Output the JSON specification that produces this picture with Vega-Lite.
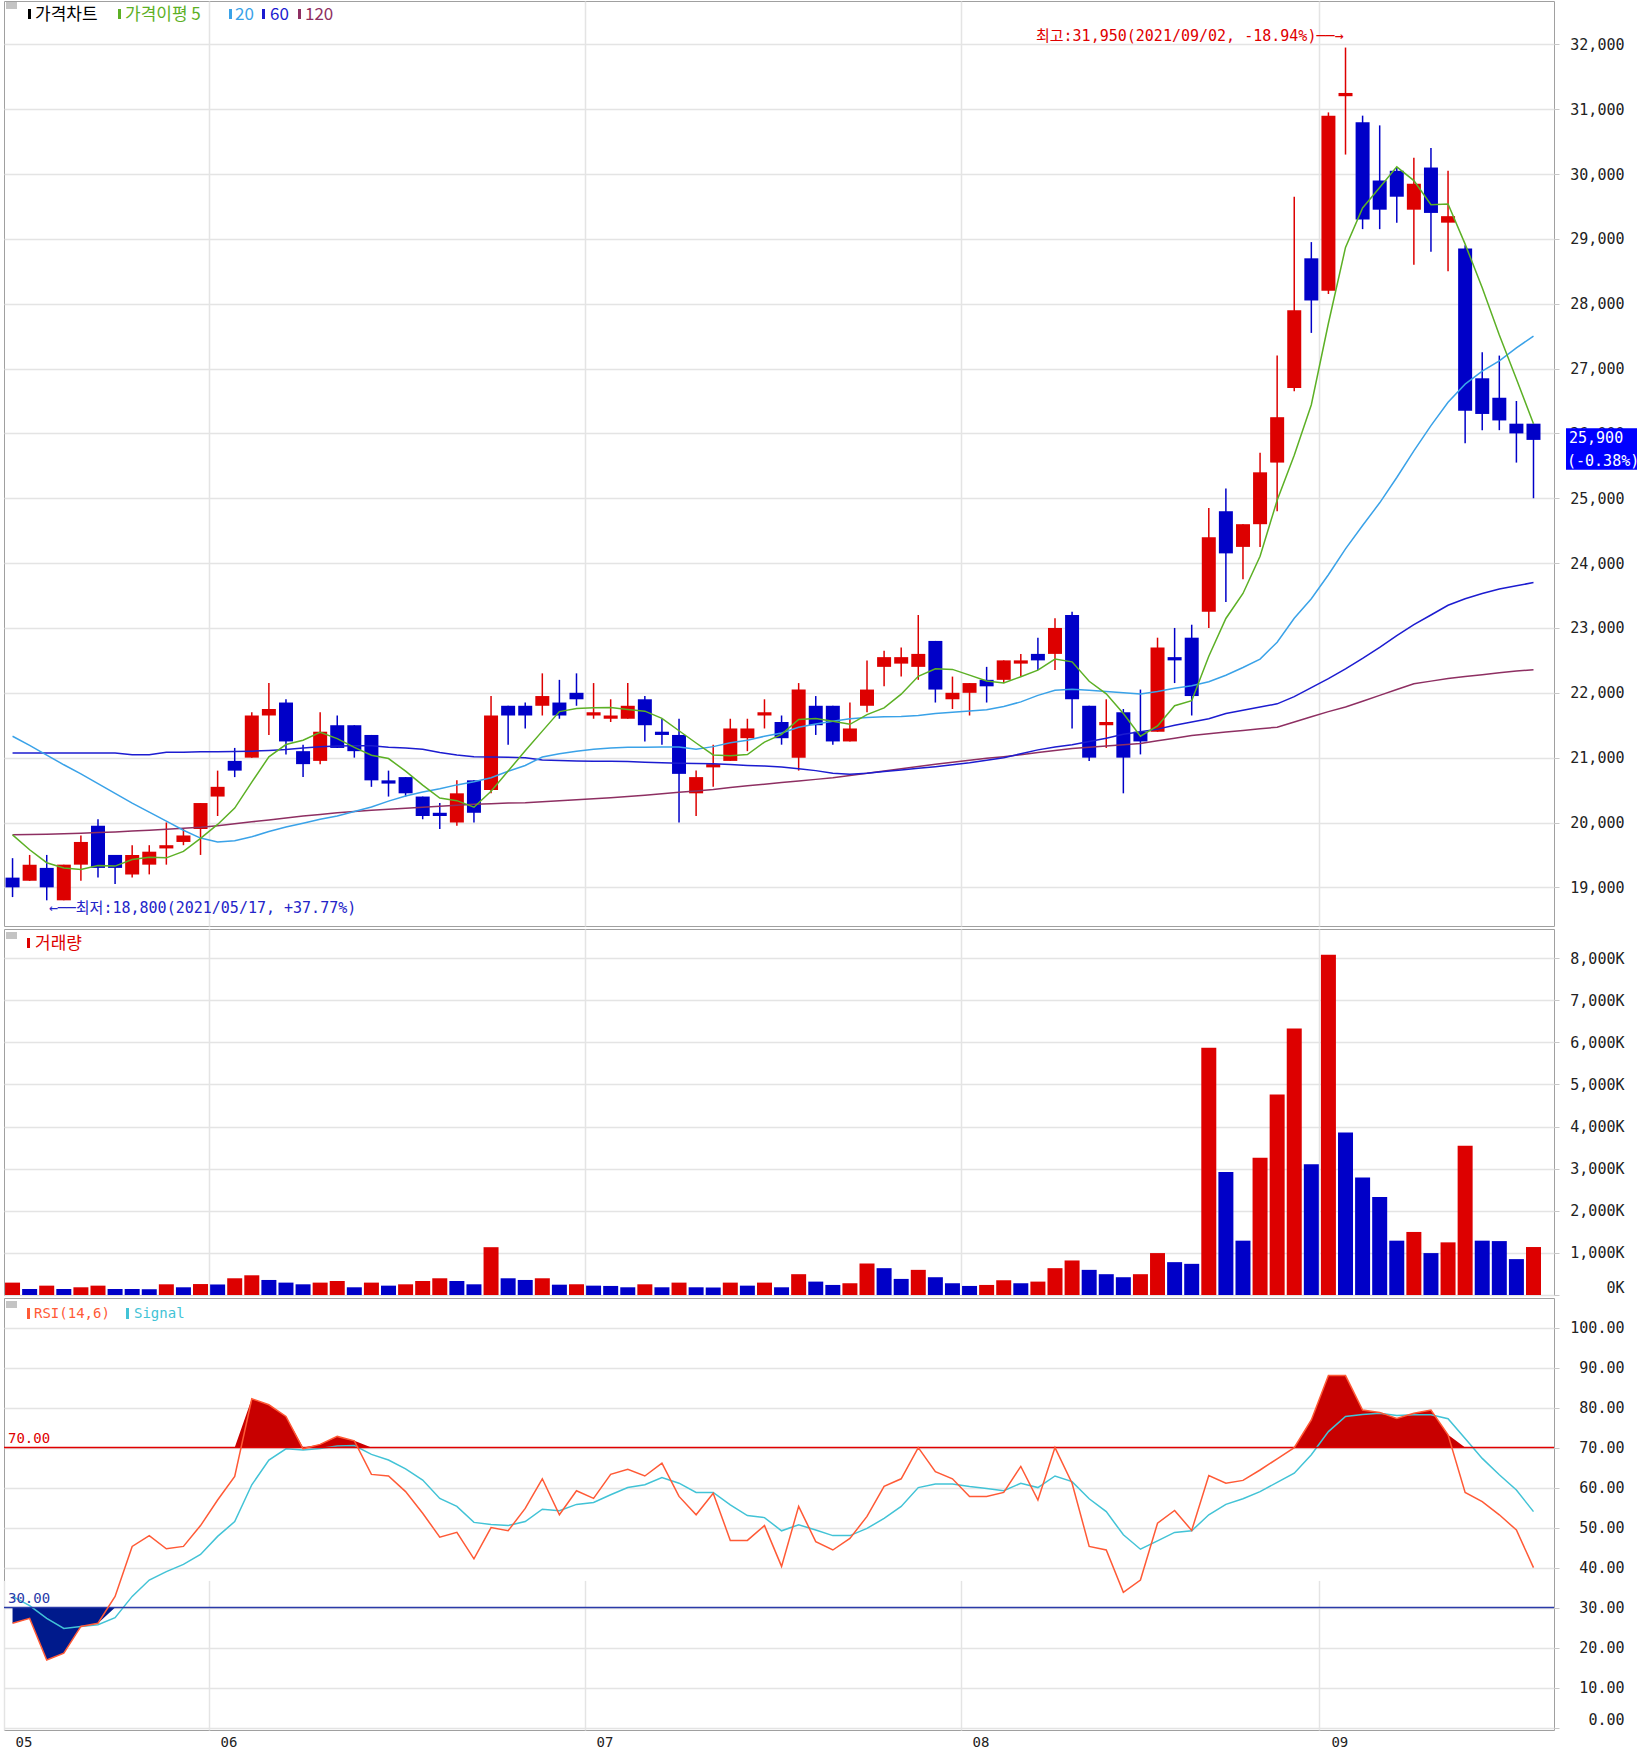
{
"$schema":"https://vega.github.io/schema/vega-lite/v6.json",
"padding":{"left":2,"top":0,"right":0,"bottom":0},
"background":"white",
"spacing":1,
"config":{
 "view":{"stroke":"#a0a0a0","strokeWidth":1},
 "axis":{"gridColor":"#e4e4e4","gridWidth":1.5,"labelFont":"DejaVu Sans Mono","labelFontSize":15,"labelColor":"#222222","tickColor":"#c8c8c8","domain":false}
},
"datasets":{"k":[
{"d":"05/13","o":19150,"h":19450,"l":18850,"c":19000,"v":294,"vd":"u","m5":19810,"m20":21330,"m60":21070,"m120":19810,"rsi":26.1,"sig":32.8},
{"d":"05/14","o":19100,"h":19500,"l":19100,"c":19350,"v":143,"vd":"d","m5":19580,"m20":21190,"m60":21070,"m120":19815,"rsi":27.3,"sig":30.5},
{"d":"05/17","o":19300,"h":19500,"l":18800,"c":19000,"v":222,"vd":"u","m5":19380,"m20":21040,"m60":21070,"m120":19820,"rsi":16.9,"sig":27.3},
{"d":"05/18","o":18800,"h":19350,"l":18800,"c":19350,"v":143,"vd":"d","m5":19300,"m20":20890,"m60":21070,"m120":19825,"rsi":18.6,"sig":24.8},
{"d":"05/20","o":19350,"h":19800,"l":19100,"c":19700,"v":183,"vd":"u","m5":19275,"m20":20750,"m60":21070,"m120":19835,"rsi":25.3,"sig":25.3},
{"d":"05/21","o":19950,"h":20050,"l":19150,"c":19300,"v":222,"vd":"u","m5":19335,"m20":20600,"m60":21070,"m120":19845,"rsi":26.1,"sig":25.7},
{"d":"05/24","o":19500,"h":19500,"l":19050,"c":19300,"v":143,"vd":"d","m5":19328,"m20":20450,"m60":21070,"m120":19855,"rsi":32.8,"sig":27.5},
{"d":"05/25","o":19200,"h":19650,"l":19150,"c":19500,"v":140,"vd":"d","m5":19428,"m20":20300,"m60":21045,"m120":19870,"rsi":45.3,"sig":32.8},
{"d":"05/26","o":19350,"h":19650,"l":19200,"c":19550,"v":137,"vd":"d","m5":19464,"m20":20160,"m60":21045,"m120":19880,"rsi":48.0,"sig":36.9},
{"d":"05/27","o":19600,"h":20000,"l":19350,"c":19650,"v":254,"vd":"u","m5":19455,"m20":20020,"m60":21085,"m120":19895,"rsi":44.7,"sig":39.0},
{"d":"05/28","o":19700,"h":19900,"l":19650,"c":19800,"v":183,"vd":"d","m5":19555,"m20":19880,"m60":21085,"m120":19910,"rsi":45.3,"sig":40.8},
{"d":"05/31","o":19900,"h":20300,"l":19500,"c":20300,"v":260,"vd":"u","m5":19754,"m20":19760,"m60":21090,"m120":19925,"rsi":50.5,"sig":43.3},
{"d":"06/01","o":20400,"h":20800,"l":20100,"c":20550,"v":250,"vd":"d","m5":19970,"m20":19700,"m60":21090,"m120":19950,"rsi":56.9,"sig":47.8},
{"d":"06/02","o":20950,"h":21150,"l":20700,"c":20800,"v":397,"vd":"u","m5":20222,"m20":19720,"m60":21095,"m120":19980,"rsi":62.8,"sig":51.5},
{"d":"06/03","o":21000,"h":21700,"l":21000,"c":21650,"v":468,"vd":"u","m5":20622,"m20":19780,"m60":21100,"m120":20010,"rsi":82.2,"sig":60.7},
{"d":"06/04","o":21650,"h":22150,"l":21350,"c":21750,"v":357,"vd":"d","m5":21013,"m20":19860,"m60":21110,"m120":20040,"rsi":80.7,"sig":66.9},
{"d":"06/07","o":21850,"h":21900,"l":21050,"c":21250,"v":294,"vd":"d","m5":21202,"m20":19930,"m60":21125,"m120":20070,"rsi":77.8,"sig":69.7},
{"d":"06/08","o":21100,"h":21200,"l":20700,"c":20900,"v":254,"vd":"d","m5":21269,"m20":19990,"m60":21150,"m120":20100,"rsi":69.7,"sig":69.4},
{"d":"06/09","o":20950,"h":21700,"l":20900,"c":21400,"v":294,"vd":"u","m5":21392,"m20":20050,"m60":21170,"m120":20125,"rsi":70.8,"sig":69.8},
{"d":"06/10","o":21500,"h":21650,"l":21150,"c":21150,"v":333,"vd":"u","m5":21294,"m20":20100,"m60":21180,"m120":20150,"rsi":72.8,"sig":70.4},
{"d":"06/11","o":21500,"h":21500,"l":21000,"c":21100,"v":183,"vd":"d","m5":21159,"m20":20170,"m60":21185,"m120":20170,"rsi":71.7,"sig":70.5},
{"d":"06/14","o":21350,"h":21350,"l":20550,"c":20650,"v":294,"vd":"u","m5":21038,"m20":20240,"m60":21185,"m120":20190,"rsi":63.3,"sig":68.3},
{"d":"06/15","o":20650,"h":20800,"l":20400,"c":20600,"v":222,"vd":"d","m5":20986,"m20":20330,"m60":21160,"m120":20205,"rsi":62.9,"sig":66.9},
{"d":"06/16","o":20700,"h":20700,"l":20400,"c":20450,"v":254,"vd":"u","m5":20792,"m20":20410,"m60":21150,"m120":20220,"rsi":59.0,"sig":64.7},
{"d":"06/17","o":20400,"h":20400,"l":20050,"c":20100,"v":333,"vd":"u","m5":20577,"m20":20470,"m60":21130,"m120":20235,"rsi":53.6,"sig":61.9},
{"d":"06/18","o":20150,"h":20300,"l":19900,"c":20100,"v":397,"vd":"u","m5":20377,"m20":20520,"m60":21080,"m120":20250,"rsi":47.6,"sig":57.3},
{"d":"06/21","o":20000,"h":20650,"l":19950,"c":20450,"v":333,"vd":"d","m5":20337,"m20":20580,"m60":21040,"m120":20265,"rsi":48.8,"sig":55.3},
{"d":"06/22","o":20650,"h":20650,"l":20000,"c":20150,"v":254,"vd":"d","m5":20236,"m20":20630,"m60":21015,"m120":20280,"rsi":42.2,"sig":51.3},
{"d":"06/23","o":20500,"h":21950,"l":20450,"c":21650,"v":1135,"vd":"u","m5":20482,"m20":20690,"m60":21010,"m120":20290,"rsi":50.0,"sig":50.8},
{"d":"06/24","o":21800,"h":21800,"l":21200,"c":21650,"v":397,"vd":"d","m5":20794,"m20":20790,"m60":21005,"m120":20300,"rsi":49.2,"sig":50.5},
{"d":"06/25","o":21800,"h":21850,"l":21450,"c":21650,"v":357,"vd":"d","m5":21105,"m20":20880,"m60":21000,"m120":20306,"rsi":54.8,"sig":51.5},
{"d":"06/28","o":21800,"h":22300,"l":21650,"c":21950,"v":397,"vd":"u","m5":21409,"m20":21010,"m60":20965,"m120":20320,"rsi":62.2,"sig":54.6},
{"d":"06/29","o":21850,"h":22200,"l":21600,"c":21650,"v":245,"vd":"d","m5":21710,"m20":21060,"m60":20955,"m120":20335,"rsi":53.2,"sig":54.2},
{"d":"06/30","o":22000,"h":22300,"l":21800,"c":21900,"v":255,"vd":"u","m5":21758,"m20":21100,"m60":20950,"m120":20350,"rsi":59.2,"sig":55.8},
{"d":"07/01","o":21650,"h":22150,"l":21600,"c":21700,"v":222,"vd":"d","m5":21770,"m20":21130,"m60":20945,"m120":20365,"rsi":57.3,"sig":56.3},
{"d":"07/02","o":21600,"h":21900,"l":21550,"c":21650,"v":215,"vd":"d","m5":21773,"m20":21150,"m60":20945,"m120":20380,"rsi":63.3,"sig":58.2},
{"d":"07/05","o":21600,"h":22150,"l":21600,"c":21800,"v":183,"vd":"d","m5":21744,"m20":21160,"m60":20940,"m120":20400,"rsi":64.6,"sig":60.0},
{"d":"07/06","o":21900,"h":21950,"l":21250,"c":21500,"v":254,"vd":"u","m5":21717,"m20":21160,"m60":20930,"m120":20420,"rsi":62.9,"sig":60.7},
{"d":"07/07","o":21400,"h":21600,"l":21200,"c":21350,"v":183,"vd":"d","m5":21607,"m20":21165,"m60":20920,"m120":20445,"rsi":66.1,"sig":62.5},
{"d":"07/08","o":21350,"h":21600,"l":20000,"c":20750,"v":294,"vd":"u","m5":21415,"m20":21165,"m60":20915,"m120":20465,"rsi":57.8,"sig":61.1},
{"d":"07/09","o":20450,"h":20800,"l":20100,"c":20700,"v":183,"vd":"d","m5":21226,"m20":21130,"m60":20910,"m120":20487,"rsi":53.2,"sig":58.8},
{"d":"07/12","o":20850,"h":21200,"l":20550,"c":20900,"v":178,"vd":"d","m5":21042,"m20":21170,"m60":20905,"m120":20510,"rsi":58.6,"sig":58.8},
{"d":"07/13","o":20950,"h":21600,"l":20950,"c":21450,"v":294,"vd":"u","m5":21029,"m20":21230,"m60":20895,"m120":20540,"rsi":46.8,"sig":55.7},
{"d":"07/14","o":21300,"h":21600,"l":21100,"c":21450,"v":222,"vd":"d","m5":21048,"m20":21270,"m60":20880,"m120":20565,"rsi":46.8,"sig":53.0},
{"d":"07/15","o":21650,"h":21900,"l":21450,"c":21700,"v":294,"vd":"u","m5":21240,"m20":21330,"m60":20870,"m120":20590,"rsi":50.5,"sig":52.5},
{"d":"07/16","o":21550,"h":21650,"l":21200,"c":21300,"v":183,"vd":"d","m5":21359,"m20":21380,"m60":20855,"m120":20615,"rsi":40.3,"sig":49.2},
{"d":"07/19","o":21000,"h":22150,"l":20800,"c":22050,"v":494,"vd":"u","m5":21589,"m20":21470,"m60":20830,"m120":20640,"rsi":55.3,"sig":50.7},
{"d":"07/20","o":21800,"h":21950,"l":21350,"c":21500,"v":318,"vd":"d","m5":21603,"m20":21520,"m60":20800,"m120":20665,"rsi":46.5,"sig":49.4},
{"d":"07/21","o":21800,"h":21800,"l":21200,"c":21250,"v":239,"vd":"d","m5":21563,"m20":21560,"m60":20760,"m120":20690,"rsi":44.4,"sig":48.0},
{"d":"07/22","o":21250,"h":21850,"l":21250,"c":21450,"v":279,"vd":"u","m5":21514,"m20":21600,"m60":20745,"m120":20725,"rsi":47.3,"sig":48.0},
{"d":"07/23","o":21800,"h":22500,"l":21700,"c":22050,"v":748,"vd":"u","m5":21664,"m20":21620,"m60":20760,"m120":20760,"rsi":52.8,"sig":49.8},
{"d":"07/26","o":22400,"h":22650,"l":22100,"c":22550,"v":637,"vd":"d","m5":21768,"m20":21630,"m60":20785,"m120":20795,"rsi":60.3,"sig":52.3},
{"d":"07/27","o":22450,"h":22700,"l":22250,"c":22550,"v":382,"vd":"d","m5":21979,"m20":21635,"m60":20810,"m120":20830,"rsi":62.2,"sig":55.3},
{"d":"07/28","o":22400,"h":23200,"l":22200,"c":22600,"v":597,"vd":"u","m5":22254,"m20":21650,"m60":20835,"m120":20865,"rsi":70.0,"sig":60.0},
{"d":"07/29","o":22800,"h":22800,"l":21850,"c":22050,"v":422,"vd":"d","m5":22371,"m20":21680,"m60":20860,"m120":20900,"rsi":64.0,"sig":60.9},
{"d":"07/30","o":21900,"h":22250,"l":21750,"c":22000,"v":279,"vd":"d","m5":22361,"m20":21700,"m60":20890,"m120":20930,"rsi":62.2,"sig":60.9},
{"d":"08/02","o":22000,"h":22150,"l":21650,"c":22150,"v":215,"vd":"d","m5":22273,"m20":21720,"m60":20920,"m120":20960,"rsi":57.8,"sig":60.3},
{"d":"08/03","o":22200,"h":22400,"l":21850,"c":22100,"v":239,"vd":"u","m5":22181,"m20":21740,"m60":20960,"m120":20990,"rsi":57.8,"sig":59.8},
{"d":"08/04","o":22200,"h":22500,"l":22150,"c":22500,"v":350,"vd":"u","m5":22153,"m20":21790,"m60":21000,"m120":21015,"rsi":58.8,"sig":59.2},
{"d":"08/05","o":22450,"h":22600,"l":22250,"c":22500,"v":279,"vd":"d","m5":22248,"m20":21860,"m60":21060,"m120":21045,"rsi":65.3,"sig":61.1},
{"d":"08/06","o":22600,"h":22850,"l":22350,"c":22500,"v":318,"vd":"u","m5":22349,"m20":21960,"m60":21120,"m120":21080,"rsi":56.9,"sig":60.0},
{"d":"08/09","o":22600,"h":23150,"l":22350,"c":23000,"v":637,"vd":"u","m5":22521,"m20":22040,"m60":21165,"m120":21110,"rsi":70.0,"sig":62.9},
{"d":"08/10","o":23200,"h":23250,"l":21450,"c":21900,"v":820,"vd":"u","m5":22477,"m20":22055,"m60":21200,"m120":21140,"rsi":61.1,"sig":61.5},
{"d":"08/11","o":21800,"h":21800,"l":20950,"c":21000,"v":597,"vd":"d","m5":22178,"m20":22040,"m60":21250,"m120":21160,"rsi":45.3,"sig":57.2},
{"d":"08/12","o":21500,"h":21900,"l":21150,"c":21550,"v":494,"vd":"d","m5":21984,"m20":22020,"m60":21300,"m120":21180,"rsi":44.4,"sig":54.0},
{"d":"08/13","o":21700,"h":21750,"l":20450,"c":21000,"v":422,"vd":"d","m5":21680,"m20":22000,"m60":21360,"m120":21200,"rsi":33.8,"sig":48.2},
{"d":"08/17","o":21400,"h":22050,"l":21050,"c":21250,"v":494,"vd":"u","m5":21330,"m20":21980,"m60":21400,"m120":21220,"rsi":36.9,"sig":44.6},
{"d":"08/18","o":21400,"h":22850,"l":21400,"c":22700,"v":995,"vd":"u","m5":21490,"m20":22020,"m60":21440,"m120":21260,"rsi":51.1,"sig":46.7},
{"d":"08/19","o":22550,"h":23000,"l":22150,"c":22500,"v":780,"vd":"d","m5":21801,"m20":22070,"m60":21500,"m120":21300,"rsi":54.3,"sig":48.8},
{"d":"08/20","o":22850,"h":23050,"l":21650,"c":21950,"v":740,"vd":"d","m5":21878,"m20":22110,"m60":21550,"m120":21340,"rsi":49.3,"sig":49.2},
{"d":"08/23","o":23250,"h":24850,"l":23000,"c":24400,"v":5868,"vd":"u","m5":22564,"m20":22170,"m60":21600,"m120":21370,"rsi":63.0,"sig":53.2},
{"d":"08/24","o":24800,"h":25150,"l":23400,"c":24150,"v":2922,"vd":"d","m5":23146,"m20":22270,"m60":21680,"m120":21395,"rsi":61.1,"sig":55.8},
{"d":"08/25","o":24250,"h":24600,"l":23750,"c":24600,"v":1290,"vd":"d","m5":23532,"m20":22390,"m60":21730,"m120":21420,"rsi":61.8,"sig":57.2},
{"d":"08/26","o":24600,"h":25700,"l":24250,"c":25400,"v":3256,"vd":"u","m5":24105,"m20":22520,"m60":21780,"m120":21445,"rsi":64.4,"sig":59.0},
{"d":"08/27","o":25550,"h":27200,"l":24800,"c":26250,"v":4761,"vd":"u","m5":24969,"m20":22780,"m60":21830,"m120":21470,"rsi":67.2,"sig":61.3},
{"d":"08/30","o":26700,"h":29650,"l":26650,"c":27900,"v":6330,"vd":"u","m5":25663,"m20":23150,"m60":21940,"m120":21550,"rsi":70.0,"sig":63.6},
{"d":"08/31","o":28700,"h":28950,"l":27550,"c":28050,"v":3105,"vd":"d","m5":26442,"m20":23450,"m60":22080,"m120":21630,"rsi":76.9,"sig":68.2},
{"d":"09/01","o":28200,"h":30950,"l":28150,"c":30900,"v":8081,"vd":"u","m5":27699,"m20":23820,"m60":22220,"m120":21710,"rsi":88.0,"sig":74.0},
{"d":"09/02","o":31200,"h":31950,"l":30300,"c":31250,"v":3861,"vd":"d","m5":28868,"m20":24220,"m60":22370,"m120":21780,"rsi":88.0,"sig":77.8},
{"d":"09/03","o":30800,"h":30900,"l":29150,"c":29300,"v":2787,"vd":"d","m5":29476,"m20":24580,"m60":22530,"m120":21870,"rsi":79.4,"sig":78.3},
{"d":"09/06","o":29900,"h":30750,"l":29150,"c":29450,"v":2325,"vd":"d","m5":29792,"m20":24930,"m60":22700,"m120":21960,"rsi":78.8,"sig":78.6},
{"d":"09/07","o":30050,"h":30100,"l":29250,"c":29650,"v":1290,"vd":"d","m5":30111,"m20":25320,"m60":22880,"m120":22050,"rsi":77.3,"sig":78.0},
{"d":"09/08","o":29450,"h":30250,"l":28600,"c":29850,"v":1497,"vd":"u","m5":29898,"m20":25730,"m60":23050,"m120":22140,"rsi":78.6,"sig":78.2},
{"d":"09/09","o":30100,"h":30400,"l":28800,"c":29400,"v":995,"vd":"d","m5":29526,"m20":26120,"m60":23200,"m120":22180,"rsi":79.4,"sig":78.2},
{"d":"09/10","o":29250,"h":30050,"l":28500,"c":29350,"v":1250,"vd":"u","m5":29538,"m20":26480,"m60":23350,"m120":22220,"rsi":73.2,"sig":77.2},
{"d":"09/13","o":28850,"h":28900,"l":25850,"c":26350,"v":3543,"vd":"u","m5":28919,"m20":26760,"m60":23450,"m120":22250,"rsi":58.8,"sig":72.3},
{"d":"09/14","o":26850,"h":27250,"l":26050,"c":26300,"v":1290,"vd":"d","m5":28247,"m20":26960,"m60":23530,"m120":22280,"rsi":56.5,"sig":67.3},
{"d":"09/15","o":26550,"h":27200,"l":26050,"c":26200,"v":1280,"vd":"d","m5":27518,"m20":27120,"m60":23600,"m120":22310,"rsi":53.2,"sig":63.2},
{"d":"09/16","o":26150,"h":26500,"l":25550,"c":26000,"v":852,"vd":"d","m5":26840,"m20":27320,"m60":23650,"m120":22335,"rsi":49.4,"sig":59.4},
{"d":"09/17","o":26150,"h":26150,"l":25000,"c":25900,"v":1139,"vd":"u","m5":26149,"m20":27500,"m60":23700,"m120":22355,"rsi":40.0,"sig":54.0}
]},
"vconcat":[
{
 "width":1550,"height":925,
 "data":{"name":"k"},
 "layer":[
  {"mark":{"type":"rule","strokeWidth":1.5},
   "encoding":{
    "x":{"field":"d","type":"ordinal","title":null,"bandPosition":0.5,"scale":{"type":"band","paddingInner":0,"paddingOuter":0.35,"align":0},"axis":{"values":["06/01","07/01","08/02","09/01"],"bandPosition":0,"labels":false,"ticks":false,"domain":false,"grid":true}},
    "y":{"field":"l","type":"quantitative","title":null,"scale":{"domain":[18404,32668],"nice":false,"zero":false},"axis":{"orient":"right","values":[19000,20000,21000,22000,23000,24000,25000,26000,27000,28000,29000,30000,31000,32000],"format":",d","labelAlign":"right","labelPadding":65,"tickSize":5,"grid":true}},
    "y2":{"field":"h"},
    "color":{"condition":{"test":"datum.c >= datum.o","value":"#dd0000"},"value":"#0000c8"}}},
  {"mark":{"type":"bar","size":14},
   "encoding":{
    "x":{"field":"d","type":"ordinal","title":null,"scale":{"type":"band","paddingInner":0,"paddingOuter":0.35,"align":0},"axis":{"values":["06/01","07/01","08/02","09/01"],"bandPosition":0,"labels":false,"ticks":false,"domain":false,"grid":true}},
    "y":{"field":"o","type":"quantitative","title":null},
    "y2":{"field":"c"},
    "color":{"condition":{"test":"datum.c >= datum.o","value":"#dd0000"},"value":"#0000c8"}}},
  {"mark":{"type":"line","strokeWidth":1.5,"color":"#8e2f62"},
   "encoding":{"x":{"field":"d","type":"ordinal","title":null,"bandPosition":0.5},"y":{"field":"m120","type":"quantitative","title":null}}},
  {"mark":{"type":"line","strokeWidth":1.5,"color":"#1c1cd0"},
   "encoding":{"x":{"field":"d","type":"ordinal","title":null,"bandPosition":0.5},"y":{"field":"m60","type":"quantitative","title":null}}},
  {"mark":{"type":"line","strokeWidth":1.5,"color":"#3aa2e8"},
   "encoding":{"x":{"field":"d","type":"ordinal","title":null,"bandPosition":0.5},"y":{"field":"m20","type":"quantitative","title":null}}},
  {"mark":{"type":"line","strokeWidth":1.5,"color":"#5cb025"},
   "encoding":{"x":{"field":"d","type":"ordinal","title":null,"bandPosition":0.5},"y":{"field":"m5","type":"quantitative","title":null}}},
  {"transform":[{"filter":"datum.d == '09/02'"}],
   "mark":{"type":"text","align":"right","baseline":"middle","dx":-2,"font":"DejaVu Sans Mono, Noto Sans CJK KR","fontSize":15,"color":"#e00000","text":"최고:31,950(2021/09/02, -18.94%)──→"},
   "encoding":{"x":{"field":"d","type":"ordinal","title":null,"bandPosition":0.5},"y":{"datum":32130,"type":"quantitative"}}},
  {"transform":[{"filter":"datum.d == '05/17'"}],
   "mark":{"type":"text","align":"left","baseline":"middle","dx":2,"font":"DejaVu Sans Mono, Noto Sans CJK KR","fontSize":15,"color":"#2424c8","text":"←──최저:18,800(2021/05/17, +37.77%)"},
   "encoding":{"x":{"field":"d","type":"ordinal","title":null,"bandPosition":0.5},"y":{"datum":18680,"type":"quantitative"}}},
  {"data":{"values":[{}]},"mark":{"type":"rect","x":1562,"x2":1640,"color":"#0000ff"},
   "encoding":{"y":{"datum":26080,"type":"quantitative"},"y2":{"datum":25440}}},
  {"data":{"values":[{}]},"mark":{"type":"text","x":1565,"align":"left","baseline":"middle","font":"DejaVu Sans Mono","fontSize":15,"color":"white","text":"25,900"},
   "encoding":{"y":{"datum":25930,"type":"quantitative"}}},
  {"data":{"values":[{}]},"mark":{"type":"text","x":1563,"align":"left","baseline":"middle","font":"DejaVu Sans Mono","fontSize":15,"color":"white","text":"(-0.38%)"},
   "encoding":{"y":{"datum":25570,"type":"quantitative"}}},
  {"data":{"values":[{}]},"mark":{"type":"rect","x":2,"x2":13,"y":1,"y2":8,"color":"#c4c4c4"},"encoding":{}},
  {"data":{"values":[{}]},"mark":{"type":"rect","x":24,"x2":27,"y":8,"y2":18,"color":"#000000"},"encoding":{}},
  {"data":{"values":[{}]},"mark":{"type":"text","x":31,"y":14,"align":"left","baseline":"middle","font":"Noto Sans CJK KR","fontSize":17,"color":"#000000","text":"가격차트"},"encoding":{}},
  {"data":{"values":[{}]},"mark":{"type":"rect","x":114,"x2":117,"y":8,"y2":18,"color":"#5cb025"},"encoding":{}},
  {"data":{"values":[{}]},"mark":{"type":"text","x":121,"y":14,"align":"left","baseline":"middle","font":"Noto Sans CJK KR","fontSize":17,"color":"#5cb025","text":"가격이평 5"},"encoding":{}},
  {"data":{"values":[{}]},"mark":{"type":"rect","x":225,"x2":228,"y":8,"y2":18,"color":"#3aa2e8"},"encoding":{}},
  {"data":{"values":[{}]},"mark":{"type":"text","x":231,"y":14,"align":"left","baseline":"middle","font":"Noto Sans CJK KR","fontSize":17,"color":"#3aa2e8","text":"20"},"encoding":{}},
  {"data":{"values":[{}]},"mark":{"type":"rect","x":258,"x2":261,"y":8,"y2":18,"color":"#1c1cd0"},"encoding":{}},
  {"data":{"values":[{}]},"mark":{"type":"text","x":266,"y":14,"align":"left","baseline":"middle","font":"Noto Sans CJK KR","fontSize":17,"color":"#1c1cd0","text":"60"},"encoding":{}},
  {"data":{"values":[{}]},"mark":{"type":"rect","x":294,"x2":297,"y":8,"y2":18,"color":"#8e2f62"},"encoding":{}},
  {"data":{"values":[{}]},"mark":{"type":"text","x":301,"y":14,"align":"left","baseline":"middle","font":"Noto Sans CJK KR","fontSize":17,"color":"#8e2f62","text":"120"},"encoding":{}}
 ]
},
{
 "width":1550,"height":366,
 "data":{"name":"k"},
 "layer":[
  {"mark":{"type":"bar","size":15},
   "encoding":{
    "x":{"field":"d","type":"ordinal","title":null,"scale":{"type":"band","paddingInner":0,"paddingOuter":0.35,"align":0},"axis":{"values":["06/01","07/01","08/02","09/01"],"bandPosition":0,"labels":false,"ticks":false,"domain":false,"grid":true}},
    "y":{"field":"v","type":"quantitative","title":null,"scale":{"domain":[0,8690],"nice":false},"axis":{"orient":"right","values":[0,1000,2000,3000,4000,5000,6000,7000,8000],"labelExpr":"format(datum.value, ',') + 'K'","labelAlign":"right","labelPadding":65,"tickSize":5,"grid":true,"labelBaseline":{"condition":{"test":"datum.value == 0","value":"bottom"},"value":"middle"}}},
    "color":{"field":"vd","type":"nominal","scale":{"domain":["u","d"],"range":["#dd0000","#0000c8"]},"legend":null}}},
  {"data":{"values":[{}]},"mark":{"type":"rect","x":2,"x2":13,"y":3,"y2":10,"color":"#c4c4c4"},"encoding":{}},
  {"data":{"values":[{}]},"mark":{"type":"rect","x":23,"x2":26,"y":9,"y2":19,"color":"#dd0000"},"encoding":{}},
  {"data":{"values":[{}]},"mark":{"type":"text","x":31,"y":15,"align":"left","baseline":"middle","font":"Noto Sans CJK KR","fontSize":17,"color":"#dd0000","text":"거래량"},"encoding":{}}
 ]
},
{
 "width":1550,"height":432,
 "data":{"name":"k"},
 "resolve":{"scale":{"y":"independent"}},
 "layer":[
  {"mark":{"type":"area","color":"#c80000"},
   "encoding":{
    "x":{"field":"d","type":"ordinal","title":null,"bandPosition":0.5},
    "y":{"field":"rsi","type":"quantitative","title":null,"scale":{"domain":[70,107.4],"range":[149.6,0],"clamp":true,"nice":false,"zero":false},"axis":null},
    "y2":{"datum":70}}},
  {"mark":{"type":"area","color":"#001a8c"},
   "encoding":{
    "x":{"field":"d","type":"ordinal","title":null,"bandPosition":0.5},
    "y":{"field":"rsi","type":"quantitative","title":null,"scale":{"domain":[-0.6,30],"range":[432,309.6],"clamp":true,"nice":false,"zero":false},"axis":null},
    "y2":{"datum":30}}},
  {"layer":[
   {"mark":{"type":"line","strokeWidth":1.5,"color":"#42c3d6"},
    "encoding":{
     "x":{"field":"d","type":"ordinal","title":null,"bandPosition":0.5,"scale":{"type":"band","paddingInner":0,"paddingOuter":0.35,"align":0},"axis":{"values":["05/13","06/01","07/01","08/02","09/01"],"bandPosition":0,"labelExpr":"slice(datum.value,0,2)","labelAngle":0,"labelAlign":"left","labelBaseline":"top","labelOffset":3,"labelPadding":5,"labelFontSize":14,"ticks":false,"domain":false,"grid":true}},
     "y":{"field":"sig","type":"quantitative","title":null,"scale":{"domain":[-0.6,107.4],"nice":false,"zero":false},"axis":{"orient":"right","values":[0,10,20,30,40,50,60,70,80,90,100],"format":".2f","labelAlign":"right","labelPadding":65,"tickSize":5,"grid":true,"labelBaseline":{"condition":{"test":"datum.value == 0","value":"bottom"},"value":"middle"}}}}},
   {"data":{"values":[{}]},"mark":{"type":"rule","strokeWidth":1.5,"color":"#e00000"},"encoding":{"y":{"datum":70,"type":"quantitative"}}},
   {"data":{"values":[{}]},"mark":{"type":"rule","strokeWidth":1.5,"color":"#2a3aa8"},"encoding":{"y":{"datum":30,"type":"quantitative"}}},
   {"mark":{"type":"line","strokeWidth":1.5,"color":"#ff5a36"},
    "encoding":{"x":{"field":"d","type":"ordinal","title":null,"bandPosition":0.5},"y":{"field":"rsi","type":"quantitative","title":null}}},
   {"data":{"values":[{}]},"mark":{"type":"text","x":4,"align":"left","baseline":"bottom","dy":-2,"font":"DejaVu Sans Mono","fontSize":14,"color":"#e00000","text":"70.00"},"encoding":{"y":{"datum":70,"type":"quantitative"}}},
   {"data":{"values":[{}]},"mark":{"type":"text","x":4,"align":"left","baseline":"bottom","dy":-2,"font":"DejaVu Sans Mono","fontSize":14,"color":"#2a3aa8","text":"30.00"},"encoding":{"y":{"datum":30,"type":"quantitative"}}},
   {"data":{"values":[{}]},"mark":{"type":"rect","x":2,"x2":13,"y":3,"y2":10,"color":"#c4c4c4"},"encoding":{}},
   {"data":{"values":[{}]},"mark":{"type":"rect","x":23,"x2":26,"y":10,"y2":21,"color":"#ff5a36"},"encoding":{}},
   {"data":{"values":[{}]},"mark":{"type":"text","x":30,"y":16,"align":"left","baseline":"middle","font":"DejaVu Sans Mono","fontSize":14,"color":"#ff5a36","text":"RSI(14,6)"},"encoding":{}},
   {"data":{"values":[{}]},"mark":{"type":"rect","x":122,"x2":125,"y":10,"y2":21,"color":"#42c3d6"},"encoding":{}},
   {"data":{"values":[{}]},"mark":{"type":"text","x":130,"y":16,"align":"left","baseline":"middle","font":"DejaVu Sans Mono","fontSize":14,"color":"#42c3d6","text":"Signal"},"encoding":{}}
  ]}
 ]
}
]
}
